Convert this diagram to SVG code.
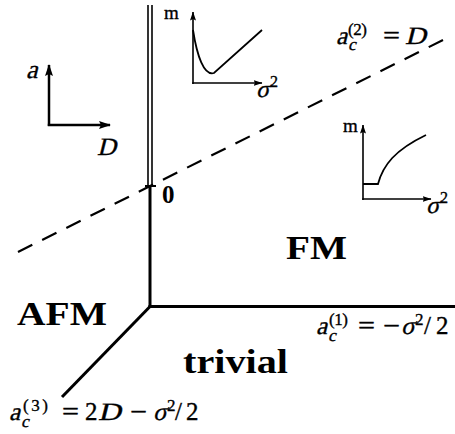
<svg xmlns="http://www.w3.org/2000/svg" width="455" height="434" viewBox="0 0 455 434">
<style>
.ln{stroke:#000;fill:none}
.m{font-family:"Liberation Serif","Times New Roman",serif;fill:#000;stroke:#000;stroke-width:0.35}
.b{font-weight:bold;stroke:none}
</style>
<defs>
<marker id="ah" viewBox="0 0 12 8" refX="11" refY="4" markerWidth="12" markerHeight="8" markerUnits="userSpaceOnUse" orient="auto">
<path d="M0,0 L12,4 L0,8 L2,4 z" fill="#000"/>
</marker>
<marker id="ahs" viewBox="0 0 9 6" refX="8.5" refY="3" markerWidth="9" markerHeight="6" markerUnits="userSpaceOnUse" orient="auto">
<path d="M0,0 L9,3 L0,6 L1.5,3 z" fill="#000"/>
</marker>
</defs>
<rect width="455" height="434" fill="#fff"/>
<g id="connectors">
<line class="ln" x1="148" y1="5" x2="148" y2="186" stroke-width="1.6"/>
<line class="ln" x1="152" y1="5" x2="152" y2="186" stroke-width="1.6"/>
<line class="ln" x1="150" y1="186" x2="150" y2="307.5" stroke-width="3"/>
<line class="ln" x1="148.5" y1="306.5" x2="455" y2="306.5" stroke-width="3"/>
<line class="ln" x1="151" y1="305.5" x2="62" y2="397" stroke-width="3"/>
<line class="ln" x1="18" y1="252" x2="443" y2="40" stroke-width="2.2" stroke-dasharray="16 11"/>
<line class="ln" x1="145" y1="186" x2="156" y2="186" stroke-width="2"/>
</g>
<g id="axes-key">
<line class="ln" x1="49" y1="126" x2="49" y2="65" stroke-width="2.5" marker-end="url(#ah)"/>
<line class="ln" x1="47.8" y1="125" x2="110" y2="125" stroke-width="2.5" marker-end="url(#ah)"/>
<text class="m" transform="translate(26,78) skewX(-14)" font-size="26">a</text>
<text class="m" transform="translate(97,155) skewX(-14)" font-size="25" textLength="19" lengthAdjust="spacingAndGlyphs">D</text>
</g>
<g id="inset-afm">
<line class="ln" x1="193" y1="84" x2="193" y2="12" stroke-width="1.6" marker-end="url(#ahs)"/>
<line class="ln" x1="192.2" y1="83" x2="262" y2="83" stroke-width="1.6" marker-end="url(#ahs)"/>
<path class="ln" d="M193,30 C197,56 204,76 214,73 L262,30" stroke-width="1.8"/>
<text class="m" x="164" y="19" font-size="19">m</text>
<text class="m" transform="translate(256,97) skewX(-14)" font-size="24">σ</text>
<text class="m" x="270" y="87" font-size="16">2</text>
</g>
<g id="inset-fm">
<line class="ln" x1="363" y1="200" x2="363" y2="125" stroke-width="1.6" marker-end="url(#ahs)"/>
<line class="ln" x1="362.2" y1="199" x2="431" y2="199" stroke-width="1.6" marker-end="url(#ahs)"/>
<path class="ln" d="M363,184 L378,184 C383,165 395,150 426,135" stroke-width="1.8"/>
<text class="m" x="343" y="132" font-size="19">m</text>
<text class="m" transform="translate(426,213) skewX(-14)" font-size="24">σ</text>
<text class="m" x="440" y="203" font-size="16">2</text>
</g>
<g id="origin">
<text class="m b" x="162" y="203" font-size="25">0</text>
</g>
<g id="phase-afm">
<text class="m b" x="17" y="325" font-size="34" textLength="90" lengthAdjust="spacingAndGlyphs">AFM</text>
</g>
<g id="phase-fm">
<text class="m b" x="286" y="259" font-size="33" textLength="61" lengthAdjust="spacingAndGlyphs">FM</text>
</g>
<g id="phase-trivial">
<text class="m b" x="183" y="373" font-size="34" textLength="105" lengthAdjust="spacingAndGlyphs">trivial</text>
</g>
<g id="label-ac2">
<text class="m" transform="translate(336,44) skewX(-14)" font-size="25">a</text>
<text class="m" transform="translate(348,50) skewX(-14)" font-size="17">c</text>
<text class="m" x="348" y="35" font-size="17" textLength="19">(2)</text>
<text class="m" x="383" y="44" font-size="25" textLength="17" lengthAdjust="spacingAndGlyphs">=</text>
<text class="m" transform="translate(405,44) skewX(-14)" font-size="25" textLength="21" lengthAdjust="spacingAndGlyphs">D</text>
</g>
<g id="label-ac1">
<text class="m" transform="translate(316,334) skewX(-14)" font-size="25">a</text>
<text class="m" transform="translate(328,341) skewX(-14)" font-size="17">c</text>
<text class="m" x="329" y="325" font-size="17" textLength="19">(1)</text>
<text class="m" x="358" y="334" font-size="25" textLength="17" lengthAdjust="spacingAndGlyphs">=</text>
<text class="m" x="383" y="334" font-size="25" textLength="17" lengthAdjust="spacingAndGlyphs">−</text>
<text class="m" transform="translate(401,334) skewX(-14)" font-size="25">σ</text>
<text class="m" x="415" y="325" font-size="17">2</text>
<text class="m" x="424" y="334" font-size="25">/</text>
<text class="m" x="436" y="334" font-size="25">2</text>
</g>
<g id="label-ac3">
<text class="m" transform="translate(9,420) skewX(-14)" font-size="25">a</text>
<text class="m" transform="translate(21,427) skewX(-14)" font-size="17">c</text>
<text class="m" x="23" y="411" font-size="17" textLength="25">(3)</text>
<text class="m" x="62" y="420" font-size="25" textLength="17" lengthAdjust="spacingAndGlyphs">=</text>
<text class="m" x="85" y="420" font-size="25">2</text>
<text class="m" transform="translate(98,420) skewX(-14)" font-size="25" textLength="23" lengthAdjust="spacingAndGlyphs">D</text>
<text class="m" x="130" y="420" font-size="25" textLength="17" lengthAdjust="spacingAndGlyphs">−</text>
<text class="m" transform="translate(153,420) skewX(-14)" font-size="25">σ</text>
<text class="m" x="167" y="411" font-size="17">2</text>
<text class="m" x="175" y="420" font-size="25">/</text>
<text class="m" x="186" y="420" font-size="25">2</text>
</g>
</svg>
